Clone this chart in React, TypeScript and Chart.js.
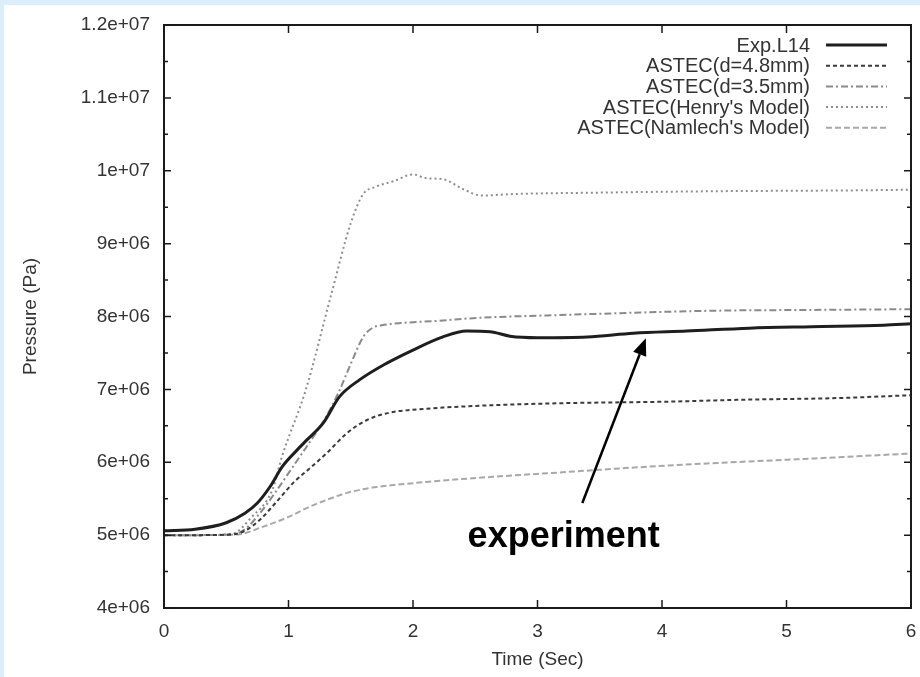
import React, { useEffect, useRef } from "react";
import { Chart, registerables } from "chart.js";

Chart.register(...registerables);

// ---------- data ----------
const xTickLabels = ["0", "1", "2", "3", "4", "5", "6"];
const yTickLabels = ["4e+06", "5e+06", "6e+06", "7e+06", "8e+06", "9e+06", "1e+07", "1.1e+07", "1.2e+07"];

const seriesNames = [
  "Exp.L14",
  "ASTEC(d=4.8mm)",
  "ASTEC(d=3.5mm)",
  "ASTEC(Henry's Model)",
  "ASTEC(Namlech's Model)",
];

const expTime = [0, 0.25, 0.5, 0.65, 0.75, 0.85, 0.95, 1.07, 1.15, 1.28, 1.41, 1.57, 1.79, 2.0, 2.24, 2.43, 2.62, 2.78, 3.0, 3.4, 3.77, 4.2, 4.7, 5.2, 5.78, 6.0];
const expPressure = [5.06, 5.08, 5.17, 5.3, 5.44, 5.66, 5.94, 6.17, 6.31, 6.54, 6.9, 7.13, 7.36, 7.54, 7.72, 7.8, 7.79, 7.73, 7.71, 7.72, 7.77, 7.8, 7.84, 7.86, 7.88, 7.9];

const d48Time = [0, 0.3, 0.55, 0.65, 0.77, 0.9, 1.04, 1.18, 1.31, 1.47, 1.63, 1.84, 2.0, 2.24, 2.6, 3.18, 4.0, 4.7, 5.4, 6.0];
const d48Pressure = [5.0, 5.0, 5.01, 5.06, 5.21, 5.45, 5.72, 5.93, 6.13, 6.4, 6.58, 6.69, 6.72, 6.75, 6.78, 6.81, 6.83, 6.86, 6.88, 6.92];

const d35Time = [0, 0.3, 0.55, 0.65, 0.77, 0.9, 1.0, 1.1, 1.2, 1.3, 1.4, 1.5, 1.6, 1.68, 1.75, 1.9, 2.2, 2.51, 3.18, 4.44, 5.2, 6.0];
const d35Pressure = [5.0, 5.0, 5.01, 5.08, 5.3, 5.6, 5.85, 6.1, 6.35, 6.62, 6.95, 7.35, 7.72, 7.85, 7.88, 7.91, 7.94, 7.98, 8.02, 8.08, 8.09, 8.1];

const henryTime = [0, 0.3, 0.55, 0.7, 0.87, 0.95, 1.14, 1.34, 1.5, 1.6, 1.7, 1.85, 2.0, 2.1, 2.25, 2.4, 2.55, 2.8, 3.5, 4.5, 5.5, 6.0];
const henryPressure = [5.0, 5.0, 5.02, 5.24, 5.62, 6.09, 7.0, 8.28, 9.28, 9.68, 9.78, 9.86, 9.95, 9.9, 9.88, 9.75, 9.66, 9.68, 9.7, 9.72, 9.73, 9.74];

const namlechTime = [0, 0.3, 0.6, 0.77, 1.0, 1.17, 1.3, 1.47, 1.6, 1.71, 2.11, 2.64, 3.18, 3.8, 4.44, 5.2, 6.0];
const namlechPressure = [5.0, 5.0, 5.01, 5.1, 5.25, 5.39, 5.48, 5.58, 5.63, 5.66, 5.73, 5.8, 5.86, 5.93, 5.99, 6.05, 6.12];

// annotation (data coordinates: seconds, MPa)
const annotationText = "experiment";
const annotationTextPos = [3.21, 4.97];
const arrowFrom = [3.36, 5.44];
const arrowTo = [3.87, 7.7];

const xTitle = "Time (Sec)";
const yTitle = "Pressure (Pa)";

const UNIT = 1e6;

const zip = (t: number[], p: number[]) => t.map((x, i) => ({ x, y: p[i] * UNIT }));

const FONT = "'Liberation Sans', Arial, sans-serif";

const framePlugin = {
  id: "gnuFrame",
  beforeDraw(chart: any) {
    const { ctx, width, height } = chart;
    ctx.save();
    ctx.fillStyle = "#dcedfb";
    ctx.fillRect(0, 0, width, height);
    ctx.fillStyle = "#ffffff";
    ctx.fillRect(4, 5, width - 4, height - 5);
    ctx.restore();
  },
  afterDraw(chart: any) {
    const { ctx, chartArea: a, scales } = chart;
    const xs = scales.x;
    const ys = scales.y;
    ctx.save();
    // frame
    ctx.strokeStyle = "#1a1a1a";
    ctx.lineWidth = 2;
    ctx.strokeRect(a.left, a.top, a.right - a.left, a.bottom - a.top);
    // ticks
    ctx.lineWidth = 1.5;
    ctx.beginPath();
    for (let i = 0; i < xTickLabels.length; i++) {
      const px = xs.getPixelForValue(i);
      ctx.moveTo(px, a.bottom);
      ctx.lineTo(px, a.bottom - 8);
      ctx.moveTo(px, a.top);
      ctx.lineTo(px, a.top + 8);
    }
    for (let k = 0; k <= 16; k++) {
      const v = (4 + k * 0.5) * UNIT;
      const py = ys.getPixelForValue(v);
      const len = k % 2 === 0 ? 7 : 4;
      ctx.moveTo(a.left, py);
      ctx.lineTo(a.left + len, py);
      ctx.moveTo(a.right, py);
      ctx.lineTo(a.right - len, py);
    }
    ctx.stroke();

    // axis titles
    ctx.fillStyle = "#333";
    ctx.font = `19px ${FONT}`;
    ctx.textAlign = "center";
    ctx.textBaseline = "middle";
    ctx.fillText(xTitle, (a.left + a.right) / 2, 660);
    ctx.save();
    ctx.translate(31, (a.top + a.bottom) / 2);
    ctx.rotate(-Math.PI / 2);
    ctx.fillText(yTitle, 0, 0);
    ctx.restore();

    // legend
    const rowY0 = 45;
    const rowH = 20.7;
    ctx.font = `20px ${FONT}`;
    ctx.textAlign = "right";
    chart.data.datasets.forEach((ds: any, i: number) => {
      const y = rowY0 + i * rowH;
      ctx.fillStyle = "#333";
      ctx.fillText(ds.label, 810, y + 1);
      ctx.save();
      ctx.strokeStyle = ds.borderColor;
      ctx.lineWidth = ds.borderWidth;
      ctx.setLineDash(ds.borderDash || []);
      ctx.beginPath();
      ctx.moveTo(826, y);
      ctx.lineTo(887, y);
      ctx.stroke();
      ctx.restore();
    });

    // annotation
    const tx = xs.getPixelForValue(annotationTextPos[0]);
    const ty = ys.getPixelForValue(annotationTextPos[1] * UNIT);
    ctx.fillStyle = "#000";
    ctx.font = `bold 36px Arial, 'Liberation Sans', sans-serif`;
    ctx.textAlign = "center";
    ctx.textBaseline = "middle";
    ctx.fillText(annotationText, tx, ty);

    const x1 = xs.getPixelForValue(arrowFrom[0]);
    const y1 = ys.getPixelForValue(arrowFrom[1] * UNIT);
    const x2 = xs.getPixelForValue(arrowTo[0]);
    const y2 = ys.getPixelForValue(arrowTo[1] * UNIT);
    const ang = Math.atan2(y2 - y1, x2 - x1);
    const headLen = 17;
    const headW = 7;
    const bx = x2 - headLen * Math.cos(ang);
    const by = y2 - headLen * Math.sin(ang);
    ctx.strokeStyle = "#000";
    ctx.lineWidth = 2.5;
    ctx.beginPath();
    ctx.moveTo(x1, y1);
    ctx.lineTo(bx, by);
    ctx.stroke();
    ctx.beginPath();
    ctx.moveTo(x2, y2);
    ctx.lineTo(bx + headW * Math.sin(ang), by - headW * Math.cos(ang));
    ctx.lineTo(bx - headW * Math.sin(ang), by + headW * Math.cos(ang));
    ctx.closePath();
    ctx.fillStyle = "#000";
    ctx.fill();
    ctx.restore();
  },
};

export default function App() {
  const ref = useRef<HTMLCanvasElement | null>(null);
  useEffect(() => {
    document.body.style.margin = "0";
    if (!ref.current) return;
    const chart = new Chart(ref.current, {
      type: "line",
      data: {
        datasets: [
          {
            label: seriesNames[0],
            data: zip(expTime, expPressure),
            borderColor: "#1e1e1e",
            borderWidth: 3,
            borderDash: [],
          },
          {
            label: seriesNames[1],
            data: zip(d48Time, d48Pressure),
            borderColor: "#3a3a3a",
            borderWidth: 2,
            borderDash: [4, 3],
          },
          {
            label: seriesNames[2],
            data: zip(d35Time, d35Pressure),
            borderColor: "#8a8a8a",
            borderWidth: 2,
            borderDash: [7, 3, 2, 3],
          },
          {
            label: seriesNames[3],
            data: zip(henryTime, henryPressure),
            borderColor: "#8e8e8e",
            borderWidth: 2,
            borderDash: [2, 3],
          },
          {
            label: seriesNames[4],
            data: zip(namlechTime, namlechPressure),
            borderColor: "#a8a8a8",
            borderWidth: 2,
            borderDash: [6, 3],
          },
        ] as any,
      },
      options: {
        animation: false,
        responsive: false,
        layout: { padding: { top: 25, right: 9, left: 0, bottom: 0 } },
        elements: {
          point: { radius: 0 },
          line: { cubicInterpolationMode: "monotone", fill: false },
        },
        plugins: {
          legend: { display: false },
          tooltip: { enabled: false },
          title: { display: false },
        },
        scales: {
          x: {
            type: "linear",
            min: 0,
            max: 6,
            grid: { display: false, drawTicks: false },
            border: { display: false },
            ticks: {
              stepSize: 1,
              padding: 12,
              color: "#333",
              font: { size: 19, family: FONT },
              maxRotation: 0,
              callback: (_v: any, i: number) => xTickLabels[i],
            },
            afterFit: (s: any) => {
              s.height = 69;
              s.paddingLeft = 0;
              s.paddingRight = 0;
            },
          },
          y: {
            type: "linear",
            min: 4 * UNIT,
            max: 12 * UNIT,
            grid: { display: false, drawTicks: false },
            border: { display: false },
            ticks: {
              stepSize: UNIT,
              padding: 14,
              color: "#333",
              font: { size: 19, family: FONT },
              callback: (_v: any, i: number) => yTickLabels[i],
            },
            afterFit: (s: any) => {
              s.width = 164;
              s.paddingTop = 0;
              s.paddingBottom = 0;
            },
          },
        },
      } as any,
      plugins: [framePlugin],
    });
    return () => chart.destroy();
  }, []);
  return (
    <div style={{ width: 920, height: 677, position: "relative" }}>
      <canvas ref={ref} width={920} height={677} style={{ display: "block" }} />
    </div>
  );
}
